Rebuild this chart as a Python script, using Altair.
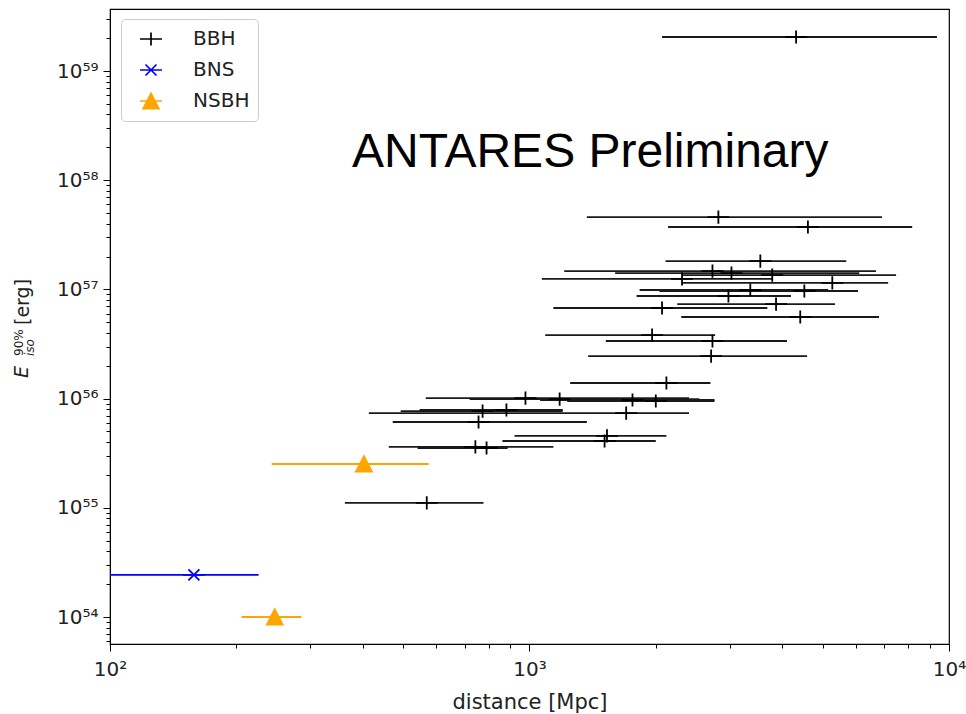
import altair as alt
import pandas as pd

# ---- data (distance in Mpc, 90% energy in erg) ----
bbh_dist = [4320, 2820, 4610, 3550, 2730, 3030, 3790, 2310, 5270, 3360, 4520, 2980,
            3870, 2070, 4420, 1960, 2730, 2710, 2120, 978, 1180, 1760, 2000, 773,
            881, 1700, 756, 1530, 1510, 743, 790, 569]
bbh_lo = [2070, 1370, 2140, 2110, 1210, 1600, 2310, 1070, 2310, 1830, 2040, 1800,
          2250, 1140, 2300, 1090, 1520, 1380, 1250, 566, 720, 1060, 1230, 493,
          547, 414, 472, 921, 862, 462, 541, 363]
bbh_hi = [9360, 6920, 8170, 5690, 6700, 6110, 7480, 3790, 7160, 5150, 6070, 4200,
          5350, 3690, 6810, 2770, 4110, 4590, 2700, 2400, 2540, 2760, 2760, 1200,
          1200, 2400, 1370, 2120, 2000, 1140, 887, 777]
bbh_energy = [2.05e59, 4.60e57, 3.73e57, 1.82e57, 1.47e57, 1.41e57, 1.35e57, 1.25e57,
              1.15e57, 9.88e56, 9.67e56, 8.71e56, 7.35e56, 6.76e56, 5.59e56, 3.82e56,
              3.37e56, 2.45e56, 1.39e56, 1.01e56, 9.91e55, 9.71e55, 9.51e55, 7.69e55,
              7.87e55, 7.38e55, 6.11e55, 4.55e55, 4.09e55, 3.61e55, 3.53e55, 1.11e55]

bns_dist = [158.5]
bns_lo = [100]
bns_hi = [226]
bns_energy = [2.43e54]

nsbh_dist = [403, 247]
nsbh_lo = [243, 206]
nsbh_hi = [575, 286]
nsbh_energy = [2.52e55, 1.0e54]

types = ["BBH", "BNS", "NSBH"]
type_colors = ["#000000", "#0000ff", "#ffa500"]

x_ticks = [100, 200, 300, 400, 500, 600, 700, 800, 900,
           1000, 2000, 3000, 4000, 5000, 6000, 7000, 8000, 9000, 10000]
x_major_exp = [2, 3, 4]
y_major_exp = [54, 55, 56, 57, 58, 59]
y_ticks = [6e53, 7e53, 8e53, 9e53,
           1e54, 2e54, 3e54, 4e54, 5e54, 6e54, 7e54, 8e54, 9e54,
           1e55, 2e55, 3e55, 4e55, 5e55, 6e55, 7e55, 8e55, 9e55,
           1e56, 2e56, 3e56, 4e56, 5e56, 6e56, 7e56, 8e56, 9e56,
           1e57, 2e57, 3e57, 4e57, 5e57, 6e57, 7e57, 8e57, 9e57,
           1e58, 2e58, 3e58, 4e58, 5e58, 6e58, 7e58, 8e58, 9e58,
           1e59, 2e59, 3e59]

rows = []
for t, ds, los, his, es in [("BBH", bbh_dist, bbh_lo, bbh_hi, bbh_energy),
                            ("BNS", bns_dist, bns_lo, bns_hi, bns_energy),
                            ("NSBH", nsbh_dist, nsbh_lo, nsbh_hi, nsbh_energy)]:
    for d, lo, hi, e in zip(ds, los, his, es):
        rows.append({"type": t, "dist": d, "lo": lo, "hi": hi, "energy": e})
df = pd.DataFrame(rows)

SUP = str.maketrans("0123456789", "⁰¹²³⁴⁵⁶⁷⁸⁹")


def label_expr(exps):
    e = "round(log(datum.value)/LN10)"
    expr = "''"
    for k in reversed(exps):
        expr = (f"({e} == {k} && abs(log(datum.value)/LN10 - {k}) < 0.001) "
                f"? '10{str(k).translate(SUP)}' : {expr}")
    return expr


major_test = "abs(log(datum.value)/LN10 - round(log(datum.value)/LN10)) < 0.001"
tick_size = {"condition": {"test": major_test, "value": 7}, "value": 4}

x_scale = alt.Scale(type="log", domain=[100, 10000], nice=False)
y_scale = alt.Scale(type="log", domain=[5.66e53, 3.70e59], nice=False)
color_scale = alt.Scale(domain=types, range=type_colors)

PLUS = "M-1,0L1,0M0,-0.6L0,0.6"
CROSS = "M-1,0L1,0M-0.5,-0.5L0.5,0.5M-0.5,0.5L0.5,-0.5"
TRI = "M-1,0L1,0M0,-0.7L0.72,0.7L-0.72,0.7Z"

x_axis = alt.Axis(values=x_ticks, labelExpr=label_expr(x_major_exp), tickSize=tick_size,
                  labelPadding=8, title="distance [Mpc]", titlePadding=12,
                  labelFlush=False, labelOverlap=False)
y_axis = alt.Axis(values=y_ticks, labelExpr=label_expr(y_major_exp), tickSize=tick_size,
                  labelPadding=5, title=None, labelOverlap=False)


def bar_layer(t, col):
    return alt.Chart(df).transform_filter(alt.datum.type == t).mark_rule(
        strokeWidth=1.8, color=col
    ).encode(
        x=alt.X("lo:Q", scale=x_scale, axis=x_axis),
        x2="hi:Q",
        y=alt.Y("energy:Q", scale=y_scale, axis=y_axis),
    )


bars_bbh = bar_layer("BBH", "#1a1a1a")
bars_bns = bar_layer("BNS", type_colors[1])
bars_nsbh = bar_layer("NSBH", type_colors[2])

legend = alt.Legend(orient="none", legendX=11, legendY=10, title=None,
                    labelFont="DejaVu Sans", labelFontSize=20, labelColor="#222222",
                    symbolSize=484, symbolStrokeWidth=1.7,
                    padding=8, rowPadding=9, symbolOffset=10,
                    labelOffset=30, strokeColor="#cccccc",
                    fillColor="white", cornerRadius=4)

points = alt.Chart(df).mark_point(filled=False, fill="#ffa500", strokeWidth=1.8,
                                  size=484, opacity=1).encode(
    x=alt.X("dist:Q", scale=x_scale, axis=x_axis),
    y=alt.Y("energy:Q", scale=y_scale, axis=y_axis),
    color=alt.Color("type:N", scale=color_scale, legend=legend),
    shape=alt.Shape("type:N", scale=alt.Scale(domain=types, range=[PLUS, CROSS, TRI]),
                    legend=legend),
)


def txt(s, x, y, size, style="normal", angle=0, font="DejaVu Sans"):
    return alt.Chart(pd.DataFrame({"t": [s]})).mark_text(
        align="left", baseline="alphabetic", font=font, fontSize=size,
        fontStyle=style, angle=angle, color="#222222"
    ).encode(text="t:N", x=alt.value(x), y=alt.value(y))


title_E = txt("E", -82, 369, 19, "italic", 270)
title_sup = txt("90%", -87, 347, 12, "normal", 270)
title_sub = txt("iso", -76, 347, 12, "italic", 270)
title_unit = txt("[erg]", -81, 316, 19, "normal", 270)
annot = alt.Chart(pd.DataFrame({"t": ["ANTARES Preliminary"]})).mark_text(
    align="left", baseline="alphabetic", font="Liberation Sans", fontSize=48,
    color="black"
).encode(text="t:N", x=alt.value(242), y=alt.value(158))

chart = alt.layer(bars_bbh, bars_bns, bars_nsbh, points,
                  title_E, title_sup, title_sub, title_unit, annot).properties(
    width=839, height=635,
    autosize=alt.AutoSizeParams(type="none"),
    padding={"left": 110, "top": 9, "right": 17, "bottom": 70},
).configure_view(stroke="black", strokeWidth=1.2).configure_axis(
    grid=False, domainColor="black", tickColor="black", tickWidth=1,
    labelFont="DejaVu Sans", labelFontSize=20, labelColor="#222222",
    titleFont="DejaVu Sans", titleFontSize=21, titleFontWeight="normal",
    titleColor="#222222",
)

chart.save("out.html", embed_options={"renderer": "svg", "actions": False})
